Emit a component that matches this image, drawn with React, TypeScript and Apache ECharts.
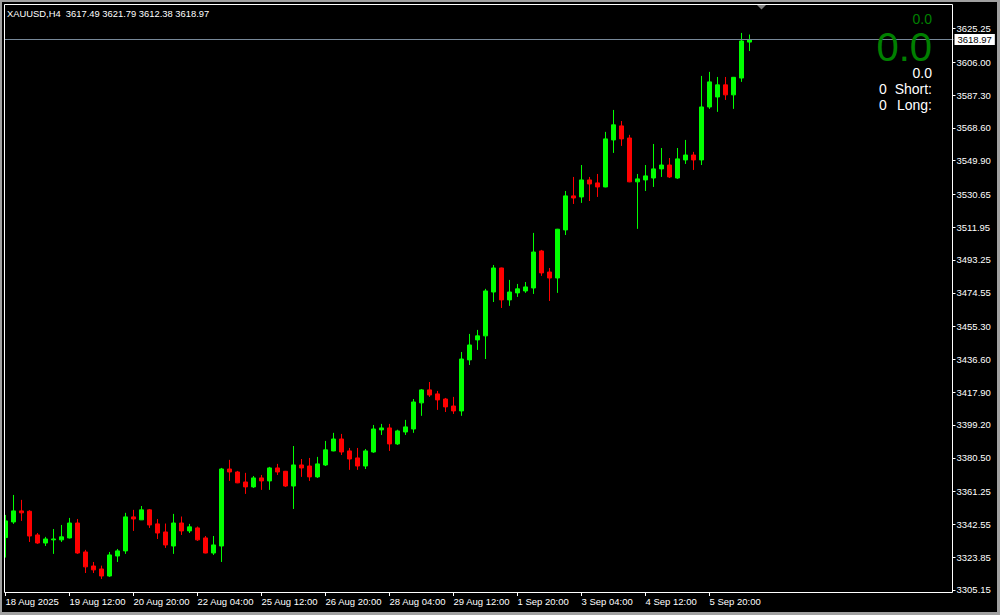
import React, { useEffect, useRef } from 'react';
import * as echarts from 'echarts';

const symbolName = 'XAUUSD,H4';

const opens = [
  3335.0, 3343.9, 3350.2, 3350.0, 3336.5, 3331.9, 3333.7, 3333.7, 3334.8, 3343.3,
  3326.8, 3318.8, 3317.1, 3313.1, 3324.5, 3327.4, 3346.8, 3345.1, 3350.8, 3342.8,
  3338.2, 3330.2, 3343.3, 3338.8, 3340.5, 3334.8, 3326.2, 3330.2, 3374.1, 3372.4,
  3366.7, 3363.9, 3369.0, 3367.3, 3374.7, 3372.8, 3364.4, 3376.4, 3375.8, 3369.6,
  3376.4, 3384.4, 3391.2, 3384.4, 3380.4, 3375.8, 3383.8, 3396.4, 3397.5, 3388.4,
  3395.2, 3396.9, 3411.8, 3419.2, 3416.9, 3414.0, 3410.0, 3407.2, 3436.3, 3447.7,
  3450.0, 3475.0, 3488.7, 3470.5, 3474.5, 3475.6, 3477.3, 3498.4, 3486.4, 3483.0,
  3510.4, 3529.8, 3529.2, 3538.9, 3537.2, 3534.9, 3561.7, 3569.7, 3562.8, 3537.8,
  3538.9, 3540.0, 3545.2, 3547.4, 3540.0, 3550.3, 3553.1, 3550.3, 3580.5, 3586.2,
  3593.1, 3587.4, 3597.0, 3617.49,
];
const closes = [
  3344.5, 3350.2, 3349.1, 3335.9, 3331.9, 3334.2, 3334.2, 3335.4, 3343.3, 3326.2,
  3318.3, 3316.6, 3313.1, 3325.1, 3327.4, 3346.8, 3345.6, 3350.8, 3342.2, 3337.6,
  3330.8, 3343.3, 3338.8, 3341.1, 3333.7, 3326.2, 3330.8, 3374.1, 3372.4, 3366.2,
  3363.9, 3369.0, 3367.3, 3374.7, 3372.4, 3364.4, 3376.4, 3374.7, 3369.6, 3377.0,
  3385.0, 3391.2, 3383.8, 3379.8, 3375.8, 3384.4, 3396.9, 3397.5, 3388.4, 3395.8,
  3398.1, 3412.3, 3419.2, 3416.3, 3413.5, 3409.5, 3407.2, 3436.8, 3444.8, 3450.0,
  3475.6, 3488.7, 3470.5, 3475.0, 3476.8, 3477.9, 3497.8, 3485.9, 3483.0, 3510.8,
  3529.8, 3528.6, 3538.9, 3536.6, 3534.9, 3562.3, 3570.3, 3562.3, 3537.8, 3539.5,
  3541.2, 3545.2, 3547.4, 3540.6, 3550.9, 3553.1, 3550.3, 3580.5, 3594.8, 3593.1,
  3587.4, 3597.4, 3618.1, 3618.97,
];
const lows = [
  3323.6, 3342.8, 3344.5, 3332.5, 3331.4, 3330.2, 3325.7, 3332.5, 3334.5, 3325.7,
  3314.8, 3314.8, 3311.4, 3312.6, 3321.1, 3325.7, 3338.8, 3345.0, 3340.5, 3334.2,
  3329.1, 3325.7, 3336.5, 3337.6, 3333.1, 3326.0, 3325.1, 3321.1, 3367.3, 3366.0,
  3359.9, 3363.3, 3362.2, 3362.2, 3370.7, 3363.9, 3351.3, 3369.6, 3367.3, 3369.0,
  3375.8, 3384.2, 3382.1, 3373.6, 3373.6, 3374.1, 3383.3, 3393.5, 3384.4, 3387.8,
  3393.5, 3394.7, 3404.4, 3415.2, 3407.8, 3406.6, 3405.5, 3404.4, 3433.4, 3442.0,
  3436.8, 3469.3, 3465.9, 3467.1, 3472.2, 3474.5, 3473.9, 3484.2, 3469.9, 3474.5,
  3507.5, 3525.2, 3525.8, 3526.9, 3529.2, 3534.7, 3554.3, 3558.3, 3537.6, 3511.0,
  3532.6, 3534.9, 3540.6, 3540.0, 3539.5, 3548.0, 3544.6, 3547.4, 3579.4, 3577.7,
  3584.5, 3579.4, 3594.8, 3612.38,
];
const highs = [
  3347.9, 3359.3, 3356.5, 3350.6, 3337.6, 3335.4, 3339.9, 3342.2, 3346.2, 3345.6,
  3328.0, 3321.1, 3319.0, 3326.8, 3328.5, 3349.1, 3350.8, 3353.0, 3351.3, 3345.6,
  3343.0, 3348.5, 3347.0, 3342.8, 3341.3, 3335.9, 3335.9, 3374.7, 3379.3, 3373.0,
  3371.9, 3370.1, 3370.7, 3375.3, 3377.0, 3373.0, 3387.2, 3379.8, 3380.4, 3381.0,
  3390.1, 3394.7, 3394.1, 3386.1, 3386.1, 3385.5, 3399.2, 3399.8, 3399.8, 3396.5,
  3402.1, 3414.0, 3419.7, 3423.7, 3418.6, 3414.6, 3415.2, 3440.8, 3451.1, 3453.4,
  3476.8, 3490.4, 3488.9, 3481.9, 3479.6, 3480.7, 3508.7, 3499.0, 3488.7, 3511.0,
  3532.6, 3540.6, 3547.4, 3540.6, 3542.3, 3566.3, 3578.8, 3572.5, 3564.6, 3542.3,
  3547.4, 3559.4, 3557.1, 3551.4, 3557.1, 3561.7, 3554.9, 3598.2, 3600.5, 3597.6,
  3597.6, 3597.6, 3622.7, 3621.79,
];

const xTickLabels = [
  '18 Aug 2025', '19 Aug 12:00', '20 Aug 20:00', '22 Aug 04:00', '25 Aug 12:00',
  '26 Aug 20:00', '28 Aug 04:00', '29 Aug 12:00', '1 Sep 20:00', '3 Sep 04:00',
  '4 Sep 12:00', '5 Sep 20:00',
];
const yTickValues = [
  3305.15, 3323.85, 3342.55, 3361.25, 3380.5, 3399.2, 3417.9, 3436.6, 3455.3,
  3474.55, 3493.25, 3511.95, 3530.65, 3549.9, 3568.6, 3587.3, 3606.0, 3625.25,
];
const lastPrice = 3618.97;
const indicatorTop = '0.0';
const indicatorBig = '0.0';
const indicatorSub = '0.0';
const shortCount = '0';
const longCount = '0';

const SLOTS = 119;
const TICK_EVERY = 8;
const FONT = '"Liberation Sans", Arial, sans-serif';

export default function App() {
  const ref = useRef<HTMLDivElement>(null);
  useEffect(() => {
    const chart = echarts.init(ref.current!, null, { renderer: 'svg' });
    const categories = Array.from({ length: SLOTS }, (_, i) => String(i));
    const candles = opens.map((o, i) => [o, closes[i], lows[i], highs[i]]);
    const n = opens.length;
    const last = n - 1;
    const header = `${symbolName}  ${opens[last].toFixed(2)} ${highs[last].toFixed(2)} ${lows[last].toFixed(2)} ${closes[last].toFixed(2)}`;
    const isTick = (i: number) => i % TICK_EVERY === 0 && i < n;

    chart.setOption({
      animation: false,
      backgroundColor: '#000000',
      grid: { left: 1.5, top: 3, width: SLOTS * 8, height: 589 },
      xAxis: {
        type: 'category',
        data: categories,
        boundaryGap: true,
        axisLine: { show: false },
        axisTick: {
          show: true,
          alignWithLabel: true,
          interval: (i: number) => isTick(i),
          length: 4,
          lineStyle: { color: '#ffffff', width: 1 },
        },
        axisLabel: {
          show: true,
          interval: (i: number) => isTick(i),
          formatter: (_v: string, i: number) => (isTick(i) ? xTickLabels[i / TICK_EVERY] ?? '' : ''),
          color: '#ffffff',
          fontFamily: FONT,
          fontSize: 9.5,
          align: 'left',
          margin: 4,
        },
        splitLine: { show: false },
      },
      yAxis: {
        type: 'value',
        position: 'right',
        offset: -1,
        min: 3303.97,
        max: 3639.77,
        scale: true,
        axisLine: { show: false },
        axisTick: {
          show: true,
          customValues: yTickValues,
          length: 3,
          lineStyle: { color: '#ffffff', width: 1 },
        },
        axisLabel: {
          show: true,
          customValues: yTickValues,
          formatter: (v: number) => v.toFixed(2),
          color: '#ffffff',
          fontFamily: FONT,
          fontSize: 9.5,
          margin: 4,
        },
        splitLine: { show: false },
      },
      series: [
        {
          type: 'candlestick',
          data: candles,
          barWidth: 4,
          itemStyle: {
            color: '#00ff00',
            color0: '#ff0000',
            borderColor: '#00ff00',
            borderColor0: '#ff0000',
            borderWidth: 1,
          },
          markLine: {
            silent: true,
            symbol: ['none', 'none'],
            lineStyle: { color: '#778899', width: 1, type: 'solid' },
            label: {
              show: true,
              position: 'end',
              distance: 1,
              formatter: lastPrice.toFixed(2),
              color: '#000000',
              backgroundColor: '#ffffff',
              fontFamily: FONT,
              fontSize: 9.5,
              lineHeight: 10,
              padding: [1, 3, 0, 3],
            },
            data: [{ yAxis: lastPrice }],
          },
        },
      ],
      graphic: [
        { type: 'rect', z: 100, shape: { x: 0, y: 0, width: 1000, height: 2 }, style: { fill: '#a0a0a0' } },
        { type: 'rect', z: 100, shape: { x: 0, y: 0, width: 2, height: 615 }, style: { fill: '#a0a0a0' } },
        { type: 'rect', z: 100, shape: { x: 997, y: 0, width: 3, height: 615 }, style: { fill: '#a0a0a0' } },
        { type: 'rect', z: 100, shape: { x: 0, y: 612, width: 1000, height: 3 }, style: { fill: '#a0a0a0' } },
        { type: 'rect', z: 99, shape: { x: 2, y: 2, width: 2, height: 600 }, style: { fill: '#000000' } },
        {
          type: 'rect', z: 100,
          shape: { x: 4.5, y: 4.5, width: 948, height: 588 },
          style: { fill: 'none', stroke: '#ffffff', lineWidth: 1 },
        },
        {
          type: 'polygon', z: 100,
          shape: { points: [[757, 5], [766, 5], [761.5, 9.5]] },
          style: { fill: '#808080' },
        },
        {
          type: 'text', z: 100, x: 7, y: 13,
          style: { text: header, fill: '#ffffff', font: `9.4px ${FONT}`, textAlign: 'left', textVerticalAlign: 'middle' },
        },
        {
          type: 'text', z: 100, x: 932, y: 18.5,
          style: { text: indicatorTop, fill: '#008000', font: `14px ${FONT}`, textAlign: 'right', textVerticalAlign: 'middle' },
        },
        {
          type: 'text', z: 100, x: 932, y: 46.5,
          style: { text: indicatorBig, fill: '#008000', font: `40px ${FONT}`, lineHeight: 30, textAlign: 'right', textVerticalAlign: 'middle' },
        },
        {
          type: 'text', z: 100, x: 932, y: 73.3,
          style: { text: indicatorSub, fill: '#ffffff', font: `14px ${FONT}`, lineHeight: 12, textAlign: 'right', textVerticalAlign: 'middle' },
        },
        {
          type: 'text', z: 100, x: 879, y: 88.7,
          style: { text: shortCount, fill: '#ffffff', font: `14px ${FONT}`, textAlign: 'left', textVerticalAlign: 'middle' },
        },
        {
          type: 'text', z: 100, x: 932, y: 88.7,
          style: { text: 'Short:', fill: '#ffffff', font: `14px ${FONT}`, textAlign: 'right', textVerticalAlign: 'middle' },
        },
        {
          type: 'text', z: 100, x: 879, y: 105.3,
          style: { text: longCount, fill: '#ffffff', font: `14px ${FONT}`, textAlign: 'left', textVerticalAlign: 'middle' },
        },
        {
          type: 'text', z: 100, x: 932, y: 105.3,
          style: { text: 'Long:', fill: '#ffffff', font: `14px ${FONT}`, textAlign: 'right', textVerticalAlign: 'middle' },
        },
      ],
    });
    return () => chart.dispose();
  }, []);
  return <div ref={ref} style={{ position: 'fixed', left: 0, top: 0, width: 1000, height: 615 }} />;
}
